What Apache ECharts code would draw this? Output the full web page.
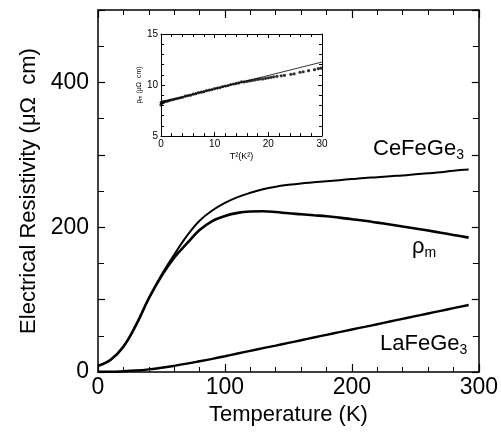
<!DOCTYPE html>
<html>
<head>
<meta charset="utf-8">
<script src="https://cdn.jsdelivr.net/npm/echarts@6/dist/echarts.min.js"></script>
<style>
html,body{margin:0;padding:0;background:#fff;}
#c{width:501px;height:432px;}
</style>
</head>
<body>
<div id="c"></div>
<script>
// Main panel data (temperature in K, resistivity in μΩ cm)
const temps = [0,10,20,30,40,50,60,70,80,90,100,110,120,130,140,150,160,170,180,190,200,210,220,230,240,250,260,270,280,292];
const ceFeGe3 = [8.5,17,35,65,102,134,162,188,209,223,233.5,241.5,247.5,252.5,256,258.5,260.5,262,263.5,265,266.5,268,269,270.5,271.5,273,274.5,276,278,279.6];
const rhoM = [8.5,17,35,65,101.5,132.5,158,177.5,196,208.5,215.5,219.8,221.6,222,221,219.2,217.9,216.5,215.1,213.2,211,208.8,206.3,203.7,201,198.3,195.4,192.4,189.3,185.6];
const laFeGe3 = [0.4,0.4,1,2,3.6,5.8,8.5,11.5,14.8,18.2,21.8,25.5,29.2,32.9,36.5,40.2,43.9,47.6,51.3,55,58.7,62.3,66,69.7,73.4,77.1,80.8,84.5,88.2,92.6];

// Inset data: rho_m vs T^2
const insetT2 = [0,0.05,0.15,0.3,0.5,0.7,1.0,1.3,1.6,2.0,2.4,2.8,3.2,3.6,4.0,4.5,5.0,5.5,6.0,6.5,7.0,7.5,8.0,8.5,9.0,9.5,10.0,10.5,11.0,11.5,12.0,12.5,13.0,13.5,14.0,14.5,15.0,15.5,16.0,16.5,17.0,17.5,18.0,18.5,19.0,19.5,20.0,20.5,21.0,21.6,22.4,23.0,24.2,24.8,25.9,26.5,27.5,28.6,29.3,29.8];
const insetRho = [8.05,8.3,8.2,8.35,8.3,8.4,8.4,8.45,8.5,8.55,8.6,8.65,8.7,8.75,8.8,8.9,8.95,9.0,9.1,9.15,9.25,9.3,9.35,9.45,9.5,9.55,9.65,9.7,9.75,9.85,9.9,9.95,10.05,10.1,10.15,10.2,10.3,10.3,10.35,10.4,10.45,10.5,10.55,10.6,10.6,10.65,10.7,10.75,10.8,10.85,10.9,10.95,11.05,11.1,11.25,11.3,11.4,11.5,11.6,11.65];
const insetFitT2 = [0,30];
const insetFitRho = [8.3,12.25];

const xTicks = [0,100,200,300];
const yTicks = [0,200,400];

const FONT = 'Liberation Sans';
const chart = echarts.init(document.getElementById('c'), null, {renderer:'canvas'});

const pairs = (xs, ys) => xs.map((x,i)=>[x, ys[i]]);
const mainLine = {show:true, onZero:false, lineStyle:{color:'#000', width:1.5}};
const insetLine = {show:true, onZero:false, lineStyle:{color:'#000', width:1}};
const rich22 = {b:{fontFamily:FONT, fontSize:22, lineHeight:26, color:'#000'}, s:{fontFamily:FONT, fontSize:14, lineHeight:15, verticalAlign:'bottom', color:'#000'}};

const option = {
  backgroundColor:'#fff',
  animation:false,
  grid:[
    {left:98, top:10, width:385, height:362},
    {left:161, top:34, width:161, height:102, backgroundColor:'#fff', show:true, borderWidth:0}
  ],
  xAxis:[
    {gridIndex:0, type:'value', min:0, max:300, interval:100, position:'bottom',
     axisLine:mainLine, splitLine:{show:false},
     axisTick:{show:true, inside:true, length:8, lineStyle:{color:'#000', width:1.2}},
     minorTick:{show:true, splitNumber:5, length:5, lineStyle:{color:'#000', width:1}},
     axisLabel:{fontFamily:FONT, fontSize:23, color:'#000', margin:4,
       formatter:v=> xTicks.includes(v) ? String(v) : ''},
     name:'Temperature (K)', nameLocation:'middle', nameGap:32,
     nameTextStyle:{fontFamily:FONT, fontSize:22, color:'#000'}},
    {gridIndex:0, type:'value', min:0, max:300, interval:100, position:'top',
     axisLine:mainLine, splitLine:{show:false},
     axisTick:{show:true, inside:true, length:8, lineStyle:{color:'#000', width:1.2}},
     minorTick:{show:true, splitNumber:5, length:5, lineStyle:{color:'#000', width:1}},
     axisLabel:{show:false}},
    {gridIndex:1, type:'value', min:0, max:30, interval:10, position:'bottom',
     axisLine:insetLine, splitLine:{show:false},
     axisTick:{show:true, inside:true, length:4, lineStyle:{color:'#000', width:1}},
     minorTick:{show:true, splitNumber:5, length:3, lineStyle:{color:'#000', width:1}},
     axisLabel:{fontFamily:FONT, fontSize:10, color:'#000', margin:3},
     name:'T²(K²)', nameLocation:'middle', nameGap:16,
     nameTextStyle:{fontFamily:FONT, fontSize:9, color:'#000'}},
    {gridIndex:1, type:'value', min:0, max:30, interval:10, position:'top',
     axisLine:insetLine, splitLine:{show:false},
     axisTick:{show:true, inside:true, length:4, lineStyle:{color:'#000', width:1}},
     minorTick:{show:true, splitNumber:5, length:3, lineStyle:{color:'#000', width:1}},
     axisLabel:{show:false}}
  ],
  yAxis:[
    {gridIndex:0, type:'value', min:0, max:500, interval:100, position:'left',
     axisLine:mainLine, splitLine:{show:false},
     axisTick:{show:true, inside:true, length:7, lineStyle:{color:'#000', width:1.2}},
     minorTick:{show:true, splitNumber:2, length:6, lineStyle:{color:'#000', width:1}},
     axisLabel:{fontFamily:FONT, fontSize:23, color:'#000', margin:9,
       formatter:v=> yTicks.includes(v) ? String(v) : ''},
     name:'Electrical Resistivity (μΩ  cm)', nameLocation:'middle', nameGap:56,
     nameTextStyle:{fontFamily:FONT, fontSize:22, color:'#000'}},
    {gridIndex:0, type:'value', min:0, max:500, interval:100, position:'right',
     axisLine:mainLine, splitLine:{show:false},
     axisTick:{show:true, inside:true, length:7, lineStyle:{color:'#000', width:1.2}},
     minorTick:{show:true, splitNumber:2, length:6, lineStyle:{color:'#000', width:1}},
     axisLabel:{show:false}},
    {gridIndex:1, type:'value', min:5, max:15, interval:5, position:'left',
     axisLine:insetLine, splitLine:{show:false},
     axisTick:{show:true, inside:true, length:4, lineStyle:{color:'#000', width:1}},
     minorTick:{show:true, splitNumber:5, length:3, lineStyle:{color:'#000', width:1}},
     axisLabel:{fontFamily:FONT, fontSize:10, color:'#000', margin:3},
     name:'{a|ρ}{s|m}{a| (μΩ  cm)}', nameLocation:'middle', nameGap:15,
     nameTextStyle:{fontFamily:FONT, fontSize:7, color:'#000',
       rich:{a:{fontFamily:FONT, fontSize:7, color:'#000'}, s:{fontFamily:FONT, fontSize:5, color:'#000', verticalAlign:'bottom', lineHeight:6}}}},
    {gridIndex:1, type:'value', min:5, max:15, interval:5, position:'right',
     axisLine:insetLine, splitLine:{show:false},
     axisTick:{show:true, inside:true, length:4, lineStyle:{color:'#000', width:1}},
     minorTick:{show:true, splitNumber:5, length:3, lineStyle:{color:'#000', width:1}},
     axisLabel:{show:false}}
  ],
  series:[
    {name:'CeFeGe3', type:'line', xAxisIndex:0, yAxisIndex:0, data:pairs(temps, ceFeGe3),
     smooth:0.4, showSymbol:false, lineStyle:{color:'#000', width:2}},
    {name:'rho_m', type:'line', xAxisIndex:0, yAxisIndex:0, data:pairs(temps, rhoM),
     smooth:0.4, showSymbol:false, lineStyle:{color:'#000', width:2.6}},
    {name:'LaFeGe3', type:'line', xAxisIndex:0, yAxisIndex:0, data:pairs(temps, laFeGe3),
     smooth:0.4, showSymbol:false, lineStyle:{color:'#000', width:2.4}},
    {name:'fit', type:'line', xAxisIndex:2, yAxisIndex:2, data:pairs(insetFitT2, insetFitRho),
     showSymbol:false, lineStyle:{color:'#000', width:0.8}},
    {name:'inset', type:'scatter', xAxisIndex:2, yAxisIndex:2, data:pairs(insetT2, insetRho),
     symbol:'circle', symbolSize:3.2, itemStyle:{color:'#000'}}
  ],
  graphic:[
    {type:'text', left:373, top:138, style:{text:'{b|CeFeGe}{s|3}', fill:'#000', rich:rich22}},
    {type:'text', left:412, top:236, style:{text:'{b|ρ}{s|m}', fill:'#000', rich:rich22}},
    {type:'text', left:380, top:333, style:{text:'{b|LaFeGe}{s|3}', fill:'#000', rich:rich22}}
  ]
};
chart.setOption(option);
</script>
</body>
</html>
